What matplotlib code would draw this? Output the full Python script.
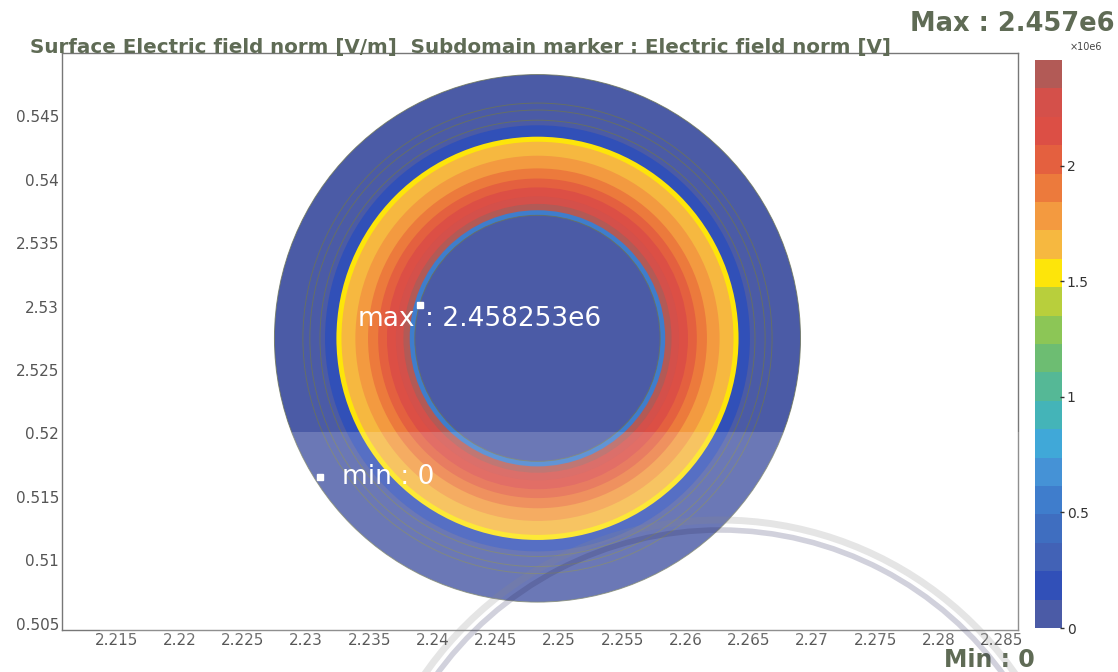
import matplotlib
matplotlib.use("Agg")
import matplotlib.pyplot as plt
from matplotlib.colors import ListedColormap, BoundaryNorm
from matplotlib.patches import Circle, Rectangle, Arc
import matplotlib.cm as cm
import numpy as np

# colour scale (bottom -> top), 20 steps from 0 to 2.458e6
BAND_COLORS = ["#4b5ba6", "#3150b8", "#4262b6", "#3f6ec0", "#3f7dcc",
               "#4592d6", "#40a8d8", "#44b4b8", "#55b896", "#6dbd72",
               "#8cc656", "#b8cf3c", "#fde50a", "#f6b840", "#f39a40",
               "#ec7a3c", "#e4603f", "#dc4f45", "#d4504a", "#b25a56"]
E_MAX = 2.458253  # x1e6

# cross-section zones, outer radius [m] and field value [x1e6 V/m]
center = (2.2483, 0.5275)
zone_radius = [0.0208, 0.0168, 0.0159, 0.0155, 0.0144, 0.0134, 0.0126,
               0.0119, 0.0112, 0.0106, 0.0101, 0.0097]
zone_field = [0.06, 0.18, 1.54, 1.66, 1.78, 1.90, 2.03, 2.15, 2.27, 2.40,
              0.55, 0.04]
boundary_radius = [0.0208, 0.01855, 0.0180, 0.0172, 0.0097]

x_ticks = [2.215, 2.22, 2.225, 2.23, 2.235, 2.24, 2.245, 2.25, 2.255,
           2.26, 2.265, 2.27, 2.275, 2.28, 2.285]
x_labels = ["2.215", "2.22", "2.225", "2.23", "2.235", "2.24", "2.245",
            "2.25", "2.255", "2.26", "2.265", "2.27", "2.275", "2.28", "2.285"]
y_ticks = [0.505, 0.51, 0.515, 0.52, 0.525, 0.53, 0.535, 0.54, 0.545]
y_labels = ["0.505", "0.51", "0.515", "0.52", "2.525", "2.53", "2.535",
            "0.54", "0.545"]
cbar_ticks = [0, 0.5, 1, 1.5, 2]
cbar_labels = ["0", "0.5", "1", "1.5", "2"]

max_point = (2.2390, 0.5301)
min_point = (2.2311, 0.51656)

TITLE_COLOR = "#5f6b55"
TICK_COLOR = "#555555"
FIG_W, FIG_H = 1118, 672


def fx(px):
    return px / FIG_W


def fy(py):
    return 1 - py / FIG_H


fig = plt.figure(figsize=(FIG_W / 100, FIG_H / 100), dpi=100)
fig.patch.set_facecolor("white")

cmap = ListedColormap(BAND_COLORS)
levels = np.linspace(0, E_MAX, len(BAND_COLORS) + 1)
norm = BoundaryNorm(levels, cmap.N)

ax = fig.add_axes([fx(62), fy(630), fx(956), 577 / FIG_H])
ax.set_xlim(2.2107, 2.2863)
ax.set_ylim(0.5045, 0.5500)

# filled zones, outermost first
for r, val in zip(zone_radius, zone_field):
    ax.add_patch(Circle(center, r, facecolor=cmap(norm(val)), edgecolor="none"))
for r in boundary_radius:
    ax.add_patch(Circle(center, r, facecolor="none", edgecolor="#6b7358",
                        lw=0.7, alpha=0.8))

# max / min markers
ax.plot(*max_point, marker="s", ms=4, color="white", mec="white")
ax.plot(*min_point, marker="s", ms=4, color="white", mec="white")
ax.annotate("max", max_point, xytext=(-5, -14), textcoords="offset pixels",
            ha="right", va="center", color="white", fontsize=19)
ax.annotate(": " + "2.458253e6", max_point, xytext=(5, -14),
            textcoords="offset pixels", ha="left", va="center",
            color="white", fontsize=19)
ax.annotate("min : 0", min_point, xytext=(22, 0), textcoords="offset pixels",
            ha="left", va="center", color="white", fontsize=19)

ax.set_xticks(x_ticks)
ax.set_xticklabels(x_labels)
ax.set_yticks(y_ticks)
ax.set_yticklabels(y_labels)
ax.tick_params(length=0, labelsize=11, labelcolor=TICK_COLOR, pad=2)
for s in ax.spines.values():
    s.set_color("#777777")
    s.set_linewidth(1.0)

# colour bar
cax = fig.add_axes([fx(1035), fy(628), fx(27), 568 / FIG_H])
sm = cm.ScalarMappable(norm=norm, cmap=cmap)
cb = fig.colorbar(sm, cax=cax, ticks=cbar_ticks)
cb.ax.set_yticklabels(cbar_labels)
cb.ax.minorticks_off()
cb.outline.set_visible(False)
cb.ax.tick_params(length=3, width=1, color="#333333", direction="inout",
                  labelsize=10, labelcolor="#333333", pad=2)
fig.text(fx(1086), fy(47), "×10e6", fontsize=7, color="#444444",
         ha="center", va="center")

# titles
fig.text(fx(30), fy(47), "Surface Electric field norm [V/m]  Subdomain marker : Electric field norm [V]",
         fontsize=14.3, fontweight="bold", color=TITLE_COLOR,
         ha="left", va="center")
fig.text(fx(1115), fy(24), "Max : 2.457e6", fontsize=18.5,
         fontweight="bold", color=TITLE_COLOR, ha="right", va="center")
fig.text(fx(1035), fy(660), "Min : 0", fontsize=17,
         fontweight="bold", color=TITLE_COLOR, ha="right", va="center")

# scan artefacts: lighter lower strip and the faint stamp arcs
fig.patches.append(Rectangle((fx(100), fy(640)), fx(920), (640 - 432) / FIG_H,
                             transform=fig.transFigure, facecolor="white",
                             alpha=0.18, edgecolor="none", zorder=5))
over = fig.add_axes([0, 0, 1, 1], zorder=6)
over.set_xlim(0, FIG_W)
over.set_ylim(FIG_H, 0)
over.axis("off")
over.patch.set_alpha(0)
over.add_patch(Arc((720, 880), 720, 720, theta1=195, theta2=345,
                   color="#8a8a8a", lw=5, alpha=0.22))
over.add_patch(Arc((720, 880), 700, 700, theta1=215, theta2=325,
                   color="#303060", lw=4, alpha=0.22))

fig.savefig("out.png", dpi=100)
